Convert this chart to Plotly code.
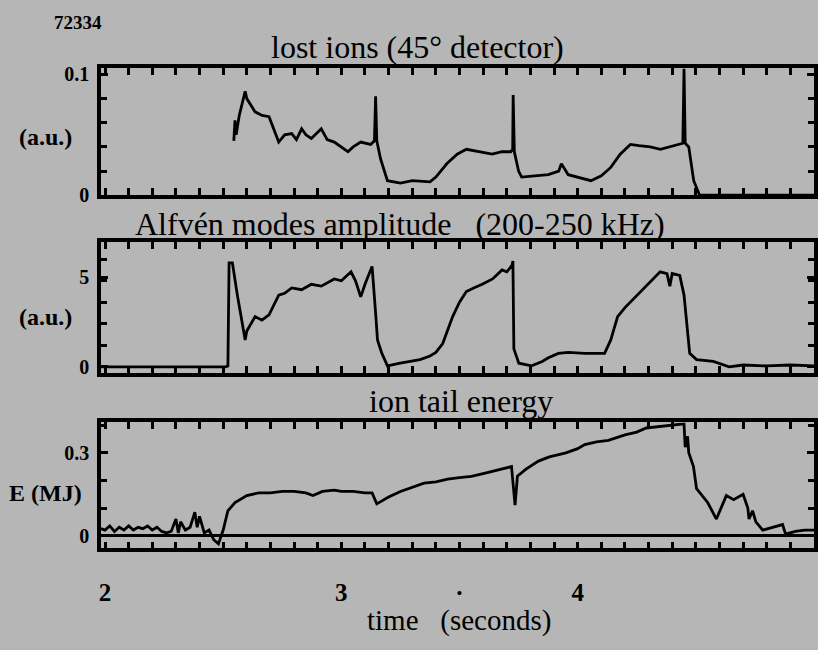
import plotly.graph_objects as go
from plotly.subplots import make_subplots

# ---- data (time in seconds) ----
lost_t = [2.545, 2.55, 2.555, 2.568, 2.593, 2.60, 2.635, 2.665, 2.694, 2.735, 2.76, 2.79, 2.81,
          2.832, 2.85, 2.873, 2.915, 2.94, 2.97, 3.0, 3.028, 3.05, 3.082, 3.124, 3.14, 3.145,
          3.15, 3.166, 3.195, 3.25, 3.30, 3.375, 3.40, 3.446, 3.49, 3.529, 3.58, 3.638, 3.68,
          3.717, 3.725, 3.727, 3.732, 3.75, 3.763, 3.82, 3.876, 3.92, 3.931, 3.96, 4.00, 4.056,
          4.10, 4.14, 4.18, 4.223, 4.26, 4.307, 4.35, 4.39, 4.43, 4.445, 4.45, 4.455, 4.47,
          4.491, 4.516, 5.0]
lost_v = [0.045, 0.062, 0.05, 0.066, 0.086, 0.08, 0.069, 0.066, 0.065, 0.044, 0.05, 0.051, 0.046,
          0.055, 0.05, 0.047, 0.055, 0.046, 0.044, 0.04, 0.036, 0.04, 0.044, 0.042, 0.045, 0.082,
          0.045, 0.03, 0.012, 0.01, 0.012, 0.011, 0.015, 0.026, 0.034, 0.038, 0.036, 0.034, 0.036,
          0.036, 0.038, 0.083, 0.036, 0.02, 0.015, 0.016, 0.017, 0.02, 0.026, 0.017, 0.015, 0.012,
          0.016, 0.023, 0.034, 0.042, 0.041, 0.04, 0.038, 0.04, 0.042, 0.043, 0.105, 0.043, 0.04,
          0.012, 0.0, 0.0]

alf_t = [1.983, 2.51, 2.52, 2.525, 2.539, 2.56, 2.593, 2.60, 2.635, 2.664, 2.694, 2.735, 2.76, 2.79,
         2.832, 2.873, 2.915, 2.97, 3.0, 3.041, 3.06, 3.082, 3.10, 3.124, 3.13, 3.145, 3.153, 3.17,
         3.195, 3.249, 3.30, 3.333, 3.375, 3.40, 3.429, 3.45, 3.471, 3.50, 3.529, 3.56, 3.596, 3.64,
         3.68, 3.70, 3.722, 3.726, 3.73, 3.751, 3.805, 3.85, 3.876, 3.918, 3.96, 4.03, 4.114, 4.14,
         4.169, 4.20, 4.252, 4.30, 4.349, 4.378, 4.39, 4.40, 4.432, 4.45, 4.474, 4.503, 4.574,
         4.641, 4.70, 4.80, 4.9, 5.0]
alf_v = [0.0, 0.0, 0.05, 5.8, 5.8, 4.0, 1.5, 2.0, 2.8, 2.6, 2.9, 4.0, 4.1, 4.4,
         4.3, 4.6, 4.5, 4.9, 4.8, 5.3, 4.8, 3.9, 4.6, 5.5, 5.6, 3.0, 1.5, 0.8,
         0.05, 0.2, 0.3, 0.4, 0.6, 0.8, 1.3, 2.0, 2.8, 3.6, 4.2, 4.4, 4.6, 4.9,
         5.4, 5.3, 5.65, 5.9, 1.0, 0.2, 0.05, 0.3, 0.5, 0.75, 0.8, 0.75, 0.75, 1.5,
         2.8, 3.3, 4.0, 4.7, 5.3, 5.2, 4.5, 5.2, 5.1, 4.0, 0.75, 0.4, 0.3,
         0.0, 0.1, 0.05, 0.1, 0.05]

tail_t = [1.983, 2.0, 2.02, 2.04, 2.06, 2.08, 2.10, 2.12, 2.14, 2.16, 2.18, 2.20, 2.22, 2.24, 2.26, 2.28,
          2.30, 2.31, 2.32, 2.34, 2.36, 2.38, 2.39, 2.40, 2.42, 2.44, 2.46, 2.48, 2.50, 2.52, 2.55,
          2.60, 2.65, 2.70, 2.75, 2.80, 2.85, 2.88, 2.92, 2.97, 3.00, 3.05, 3.10, 3.13, 3.15, 3.17,
          3.20, 3.25, 3.30, 3.35, 3.40, 3.45, 3.50, 3.55, 3.60, 3.65, 3.70, 3.72, 3.735, 3.745,
          3.78, 3.834, 3.88, 3.95, 4.00, 4.03, 4.08, 4.13, 4.20, 4.25, 4.29, 4.35, 4.40, 4.45,
          4.455, 4.465, 4.47, 4.49, 4.503, 4.55, 4.587, 4.61, 4.629, 4.66, 4.70, 4.72, 4.725,
          4.74, 4.754, 4.783, 4.83, 4.867, 4.88, 4.921, 4.96, 5.0]
tail_v = [0.025, 0.02, 0.035, 0.015, 0.03, 0.02, 0.035, 0.02, 0.03, 0.025, 0.035, 0.02, 0.03, 0.015, 0.01, 0.015,
          0.06, 0.01, 0.05, 0.02, 0.03, 0.085, 0.03, 0.07, 0.01, 0.02, -0.015, -0.03, 0.02, 0.09, 0.12,
          0.145, 0.155, 0.155, 0.16, 0.16, 0.155, 0.145, 0.16, 0.165, 0.16, 0.16, 0.155, 0.155, 0.115, 0.125,
          0.14, 0.16, 0.175, 0.19, 0.195, 0.205, 0.21, 0.215, 0.225, 0.235, 0.245, 0.25, 0.11, 0.215,
          0.24, 0.27, 0.285, 0.30, 0.315, 0.33, 0.34, 0.345, 0.365, 0.375, 0.39, 0.395, 0.40, 0.405,
          0.32, 0.36, 0.30, 0.25, 0.17, 0.12, 0.06, 0.11, 0.145, 0.13, 0.15, 0.10, 0.06,
          0.09, 0.05, 0.02, 0.03, 0.04, 0.005, 0.015, 0.02, 0.02]

x_tickvals = [2, 3, 3.5, 4, 5]
x_ticktext = ["<b>2</b>", "<b>3</b>", "<b>·</b>", "<b>4</b>", "<b>5</b>"]

titles = ["lost ions (45° detector)", "Alfvén modes amplitude   (200-250 kHz)", "ion tail energy"]
ylabels = ["(a.u.)", "(a.u.)", "E (MJ)"]

BG = "#b6b6b6"
SERIF = "Liberation Serif, Times New Roman, serif"

W, H = 818, 650
ML = 101  # left margin (px)


def px(x):
    # paper x is relative to the plotting area [ML, W]
    return (x - ML) / (W - ML)


def py(y):
    return 1 - y / H


fig = make_subplots(rows=3, cols=1, shared_xaxes=True)
for i, (t, v) in enumerate([(lost_t, lost_v), (alf_t, alf_v), (tail_t, tail_v)], start=1):
    fig.add_trace(go.Scatter(x=t, y=v, mode="lines", line=dict(color="black", width=2.8),
                             showlegend=False), row=i, col=1)

domains = [(65, 195), (243, 377), (428, 557)]
yranges = [[0, 0.105], [-0.33, 6.96], [-0.046, 0.41]]
ytickv = [[0, 0.1], [0, 5], [0, 0.3]]
ytickt = [["<b>0</b>", "<b>0.1</b>"], ["<b>0</b>", "<b>5</b>"], ["<b>0</b>", "<b>0.3</b>"]]
yminor = [0.02, 1.2, 0.1]

fig.update_layout(width=W, height=H, paper_bgcolor=BG, plot_bgcolor=BG,
                  margin=dict(l=ML, r=0, t=0, b=0), showlegend=False,
                  font=dict(family=SERIF, color="black"))

for i in range(3):
    top, bot = domains[i]
    ya = "yaxis" if i == 0 else f"yaxis{i+1}"
    xa = "xaxis" if i == 0 else f"xaxis{i+1}"
    fig.layout[ya].update(domain=[py(bot), py(top)], range=yranges[i],
                          showgrid=False, zeroline=(i == 2), zerolinecolor="black", zerolinewidth=3,
                          showline=True, linecolor="black", linewidth=3.5, mirror="allticks",
                          ticks="inside", ticklen=7, tickwidth=2.5, tickcolor="black",
                          tickvals=ytickv[i], ticktext=ytickt[i], ticklabelstandoff=4,
                          tickfont=dict(family=SERIF, size=20, color="black"),
                          minor=dict(ticks="inside", ticklen=6, tickwidth=2.5, tickcolor="black",
                                     dtick=yminor[i], tick0=0))
    fig.layout[xa].update(range=[1.983, 5.0], showgrid=False, zeroline=False,
                          showline=True, linecolor="black", linewidth=3.5, mirror="allticks",
                          ticks="inside", ticklen=7, tickwidth=2.5, tickcolor="black",
                          tickvals=x_tickvals, ticktext=x_ticktext,
                          showticklabels=(i == 2), ticklabelstandoff=19,
                          tickfont=dict(family=SERIF, size=25, color="black"),
                          minor=dict(ticks="inside", ticklen=7, tickwidth=2.5, tickcolor="black",
                                     dtick=0.1, tick0=2))

ann = []
title_pos = [(419, 43), (402, 225), (463, 406)]
for txt, (xx, yy) in zip(titles, title_pos):
    ann.append(dict(text=txt, x=px(xx), y=py(yy), xref="paper", yref="paper",
                    xanchor="center", yanchor="middle", showarrow=False,
                    font=dict(family=SERIF, size=32, color="black")))
ylab_y = [135, 320, 500]
for txt, yy in zip(ylabels, ylab_y):
    ann.append(dict(text=f"<b>{txt}</b>", x=px(45), y=py(yy), xref="paper", yref="paper",
                    xanchor="center", yanchor="middle", showarrow=False,
                    font=dict(family=SERIF, size=24, color="black")))
ann.append(dict(text="time   (seconds)", x=px(461), y=py(631), xref="paper", yref="paper",
                xanchor="center", yanchor="middle", showarrow=False,
                font=dict(family=SERIF, size=29, color="black")))
ann.append(dict(text="<b>72334</b>", x=px(78), y=py(18), xref="paper", yref="paper",
                xanchor="center", yanchor="middle", showarrow=False,
                font=dict(family=SERIF, size=19, color="black")))
fig.update_layout(annotations=ann)

fig.write_html("out.html", config={"displayModeBar": False},
               post_script="document.body.style.margin='0';"
                           "document.body.style.background='" + BG + "';")
